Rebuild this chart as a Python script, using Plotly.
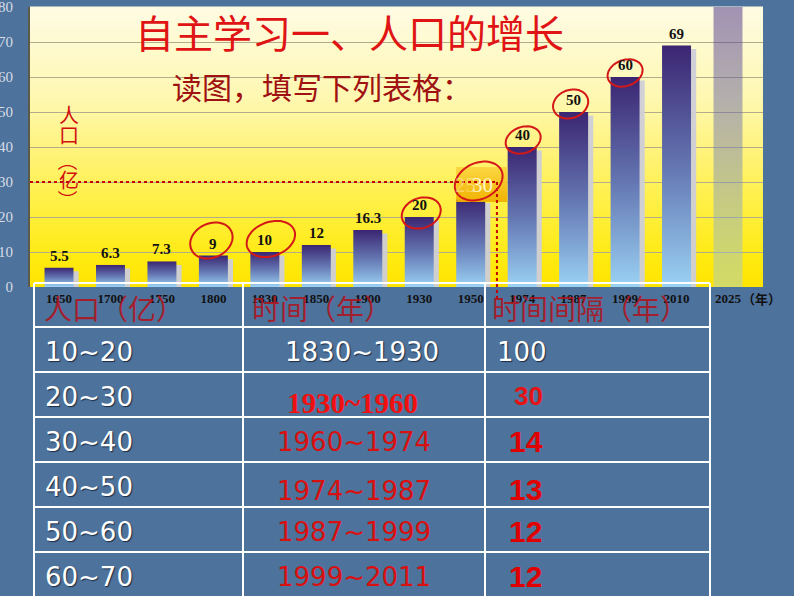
import math
import plotly.graph_objects as go

# ---------------- data ----------------
years = ["1650", "1700", "1750", "1800", "1830", "1850", "1900",
         "1930", "1950", "1974", "1987", "1999", "2010", "2025"]
population = [5.5, 6.3, 7.3, 9, 10, 12, 16.3, 20, 25, 40, 50, 60, 69, 80]
value_labels = ["5.5", "6.3", "7.3", "9", "10", "12", "16.3",
                "20", "", "40", "50", "60", "69", "80"]
circled_years = ["1800", "1830", "1930", "1974", "1987", "1999"]
highlight_year = "1950"
highlight_level = 30
forecast_year = "2025"
y_ticks = [0, 10, 20, 30, 40, 50, 60, 70, 80]

title_text = "自主学习一、人口的增长"
subtitle_text = "读图，填写下列表格："
y_label_chars = ["人", "口", "（", "亿", "）"]
year_unit = "（年）"

headers = ["人口（亿）", "时间（年）", "时间间隔（年）"]
pop_ranges = ["10~20", "20~30", "30~40", "40~50", "50~60", "60~70"]
periods = ["1830~1930", "1930~1960", "1960~1974", "1974~1987", "1987~1999", "1999~2011"]
intervals = ["100", "30", "14", "13", "12", "12"]

# ---------------- geometry ----------------
W, H = 794, 596
L, R, T, B = 30, 31, 7, 309
PW, PH = W - L - R, H - T - B
X_MIN, X_MAX = -0.5636, 13.68
BAR_W = 0.563
idx = list(range(len(years)))


def pxx(x):
    return (x - L) / PW


def pxy(y):
    return (H - B - y) / PH


fig = go.Figure()

# bar shadows
fig.add_trace(go.Bar(
    x=[i for i, y in zip(idx, years) if y != forecast_year],
    y=[v - 1.0 for v, y in zip(population, years) if y != forecast_year],
    width=BAR_W, offset=-BAR_W / 2 + 0.1,
    marker=dict(color="rgba(206,206,216,0.95)", line=dict(width=0)),
    hoverinfo="skip", showlegend=False))

# bars with vertical gradient
for i, (yr, v) in enumerate(zip(years, population)):
    if yr == forecast_year:
        cs = [[0, "rgba(150,205,240,0.42)"], [1, "rgba(70,40,130,0.5)"]]
    else:
        cs = [[0, "#9ad2f4"], [0.5, "#6476b2"], [1, "#3b2572"]]
    fig.add_trace(go.Scatter(
        x=[i - BAR_W / 2, i + BAR_W / 2, i + BAR_W / 2, i - BAR_W / 2, i - BAR_W / 2],
        y=[0, 0, v, v, 0], mode="lines", line=dict(width=0),
        fill="toself", fillgradient=dict(type="vertical", colorscale=cs),
        hoverinfo="skip", showlegend=False))

# highlight box at 1950
h = years.index(highlight_year)
bx0, bx1 = h - BAR_W / 2, h - BAR_W / 2 + 0.99
by0, by1 = highlight_level - 5.7, highlight_level + 4.3
fig.add_trace(go.Scatter(
    x=[bx0, bx1, bx1, bx0, bx0], y=[by0, by0, by1, by1, by0],
    mode="lines", line=dict(width=0), fill="toself", opacity=0.96,
    fillgradient=dict(type="vertical", colorscale=[[0, "#f0b000"], [1, "#fcd640"]]),
    hoverinfo="skip", showlegend=False))

shapes = []
# yellow gradient background of plot area
stops = [(0.0, (255, 228, 0)), (0.1, (255, 234, 16)), (0.31, (255, 240, 72)),
         (0.49, (255, 243, 124)), (0.67, (254, 248, 176)), (1.0, (254, 251, 228))]


def grad(p):
    for (p0, c0), (p1, c1) in zip(stops[:-1], stops[1:]):
        if p <= p1:
            t = (p - p0) / (p1 - p0)
            return "rgb(%d,%d,%d)" % tuple(round(a + (b - a) * t) for a, b in zip(c0, c1))
    return "rgb(%d,%d,%d)" % stops[-1][1]


N = 70
for k in range(N):
    shapes.append(dict(type="rect", xref="paper", yref="paper", x0=0, x1=1,
                       y0=k / N, y1=(k + 1) / N + 0.002, line=dict(width=0),
                       fillcolor=grad((k + 0.5) / N), layer="below"))

# red dotted guide lines
x_guide = 8.51
shapes.append(dict(type="line", xref="x", yref="y", x0=X_MIN, x1=x_guide,
                   y0=highlight_level, y1=highlight_level,
                   line=dict(color="#c40000", width=2, dash="dot"), layer="above"))
shapes.append(dict(type="line", xref="x", yref="paper", x0=x_guide, x1=x_guide,
                   y0=highlight_level / 80, y1=pxy(302),
                   line=dict(color="#c40000", width=2, dash="dot"), layer="above"))


def ellipse_path(cx, cy, w, hgt, ang):
    a = math.radians(ang)
    pts = []
    for k in range(48):
        t = 2 * math.pi * k / 48
        ex, ey = w / 2 * math.cos(t), hgt / 2 * math.sin(t)
        pts.append("%.1f,%.1f" % (cx + ex * math.cos(a) - ey * math.sin(a),
                                  cy + ex * math.sin(a) + ey * math.cos(a)))
    return "M" + " L".join(pts) + " Z"


ell_style = {"1800": (-2, 15, 44, 34, 25), "1830": (6, 13, 50, 34, 20),
             "1930": (2, 4, 40, 30, 20), "1974": (1, 7, 36, 26, 20),
             "1987": (-3, 8, 36, 28, 20), "1999": (0, 4, 36, 26, 20)}
for yr in circled_years:
    i = years.index(yr)
    dx, dy, w, hg, ang = ell_style[yr]
    shapes.append(dict(type="path", xref="x", yref="y", xsizemode="pixel", ysizemode="pixel",
                       xanchor=i, yanchor=population[i], path=ellipse_path(dx, dy, w, hg, ang),
                       line=dict(color="#d41818", width=2), layer="above"))
shapes.append(dict(type="path", xref="x", yref="y", xsizemode="pixel", ysizemode="pixel",
                   xanchor=h, yanchor=highlight_level, path=ellipse_path(8, 1, 50, 36, 25),
                   line=dict(color="#d41818", width=2), layer="above"))

# table grid
row_lines = [283, 327, 372, 417, 462, 507, 552]
col_lines = [34, 243, 485, 710]
for y in row_lines:
    shapes.append(dict(type="line", xref="paper", yref="paper", x0=pxx(col_lines[0]),
                       x1=pxx(col_lines[-1]), y0=pxy(y), y1=pxy(y),
                       line=dict(color="white", width=2), layer="above"))
for x in col_lines:
    shapes.append(dict(type="line", xref="paper", yref="paper", x0=pxx(x), x1=pxx(x),
                       y0=pxy(283), y1=pxy(600), line=dict(color="white", width=2), layer="above"))

annotations = []


def add_text(x, y, text, font, xanchor="center", yanchor="middle", **kw):
    annotations.append(dict(x=x, y=y, text=text, showarrow=False, font=font,
                            xanchor=xanchor, yanchor=yanchor, **kw))


# value labels on bars
for i, (v, t) in enumerate(zip(population, value_labels)):
    if t:
        add_text(i, v, t, dict(family="Liberation Serif", size=15, color="#111111", weight="bold"),
                 yanchor="bottom", xref="x", yref="y", yshift=2)
# texts in highlight box
add_text(h, highlight_level, str(population[h]),
         dict(family="Liberation Serif", size=21, color="rgba(255,236,170,0.55)"),
         xref="x", yref="y", xshift=-5, yshift=-3)
add_text(h, highlight_level, str(highlight_level),
         dict(family="Liberation Serif", size=21, color="#fff4c8"),
         xref="x", yref="y", xshift=12, yshift=-3)
# year unit
add_text(years.index(forecast_year), pxy(298), year_unit,
         dict(family="Noto Sans CJK SC", size=13, color="#111111", weight="bold"),
         xanchor="left", xref="x", yref="paper", xshift=12)
# title & subtitle
add_text(pxx(349), pxy(31), title_text,
         dict(family="Noto Sans CJK SC", size=39, color="#e01414"), xref="paper", yref="paper")
add_text(pxx(170), pxy(86), subtitle_text,
         dict(family="Noto Sans CJK SC", size=30, color="#a01212"),
         xanchor="left", xref="paper", yref="paper")
# vertical y label (parentheses rotated to vertical form)
for ch, yy, ang in zip(y_label_chars, [115, 134, 161, 179, 200], [0, 0, 90, 0, 90]):
    add_text(pxx(69), pxy(yy), ch, dict(family="Noto Sans CJK SC", size=20, color="#d01010"),
             xref="paper", yref="paper", textangle=ang)
# table headers
for t, x in zip(headers, [42, 250, 490]):
    add_text(pxx(x), pxy(308), t,
             dict(family="Noto Sans CJK SC", size=28, color="rgba(176,20,30,0.9)"),
             xanchor="left", xref="paper", yref="paper")
# table rows
shadow = "1px 1px 1px #1c2c44"
row_centers = [(a + b) / 2 + 2 for a, b in zip(row_lines[1:], row_lines[2:] + [597])]
for r in range(len(pop_ranges)):
    yc = row_centers[r]
    add_text(pxx(43), pxy(yc), pop_ranges[r],
             dict(family="DejaVu Sans", size=26, color="white", shadow=shadow),
             xanchor="left", xref="paper", yref="paper")
    if r == 0:
        f2 = dict(family="DejaVu Sans", size=26, color="white", shadow=shadow)
        x2, dy2 = 283, 0
        f3 = dict(family="DejaVu Sans", size=26, color="white", shadow=shadow)
        x3, dy3 = 495, 0
    elif r == 1:
        f2 = dict(family="Liberation Serif", size=29, color="#f01010", weight="bold")
        x2, dy2 = 285, 6
        f3 = dict(family="Liberation Sans", size=26, color="#e41414", weight="bold")
        x3, dy3 = 512, -1
    else:
        f2 = dict(family="DejaVu Sans", size=26, color="#d81010")
        x2, dy2 = 275, (5 if r == 3 else 0)
        f3 = dict(family="Liberation Sans", size=30, color="#e00000", weight="bold")
        x3, dy3 = 507, (3 if r == 3 else 0)
    add_text(pxx(x2), pxy(yc + dy2), periods[r], f2, xanchor="left", xref="paper", yref="paper")
    add_text(pxx(x3), pxy(yc + dy3), intervals[r], f3, xanchor="left", xref="paper", yref="paper")

fig.update_layout(
    width=W, height=H,
    margin=dict(l=L, r=R, t=T, b=B, autoexpand=False),
    paper_bgcolor="#4d729c", plot_bgcolor="#fff3a0",
    showlegend=False, shapes=shapes, annotations=annotations,
    xaxis=dict(range=[X_MIN, X_MAX], tickvals=idx, ticktext=years, showgrid=False,
               zeroline=False, showline=False, ticks="", ticklabelstandoff=2,
               ticklabeloverflow="allow",
               tickfont=dict(family="Liberation Serif", size=13, color="#111111", weight="bold")),
    yaxis=dict(range=[0, 80], tickvals=y_ticks, showgrid=True, gridcolor="#b4ab8c", gridwidth=1,
               zeroline=False, showline=True, linecolor="#5c5a48", linewidth=2, ticks="",
               ticklabelstandoff=12, ticklabeloverflow="allow",
               tickfont=dict(family="Liberation Serif", size=15, color="#d8dde6")),
)

fig.write_html("out.html")
